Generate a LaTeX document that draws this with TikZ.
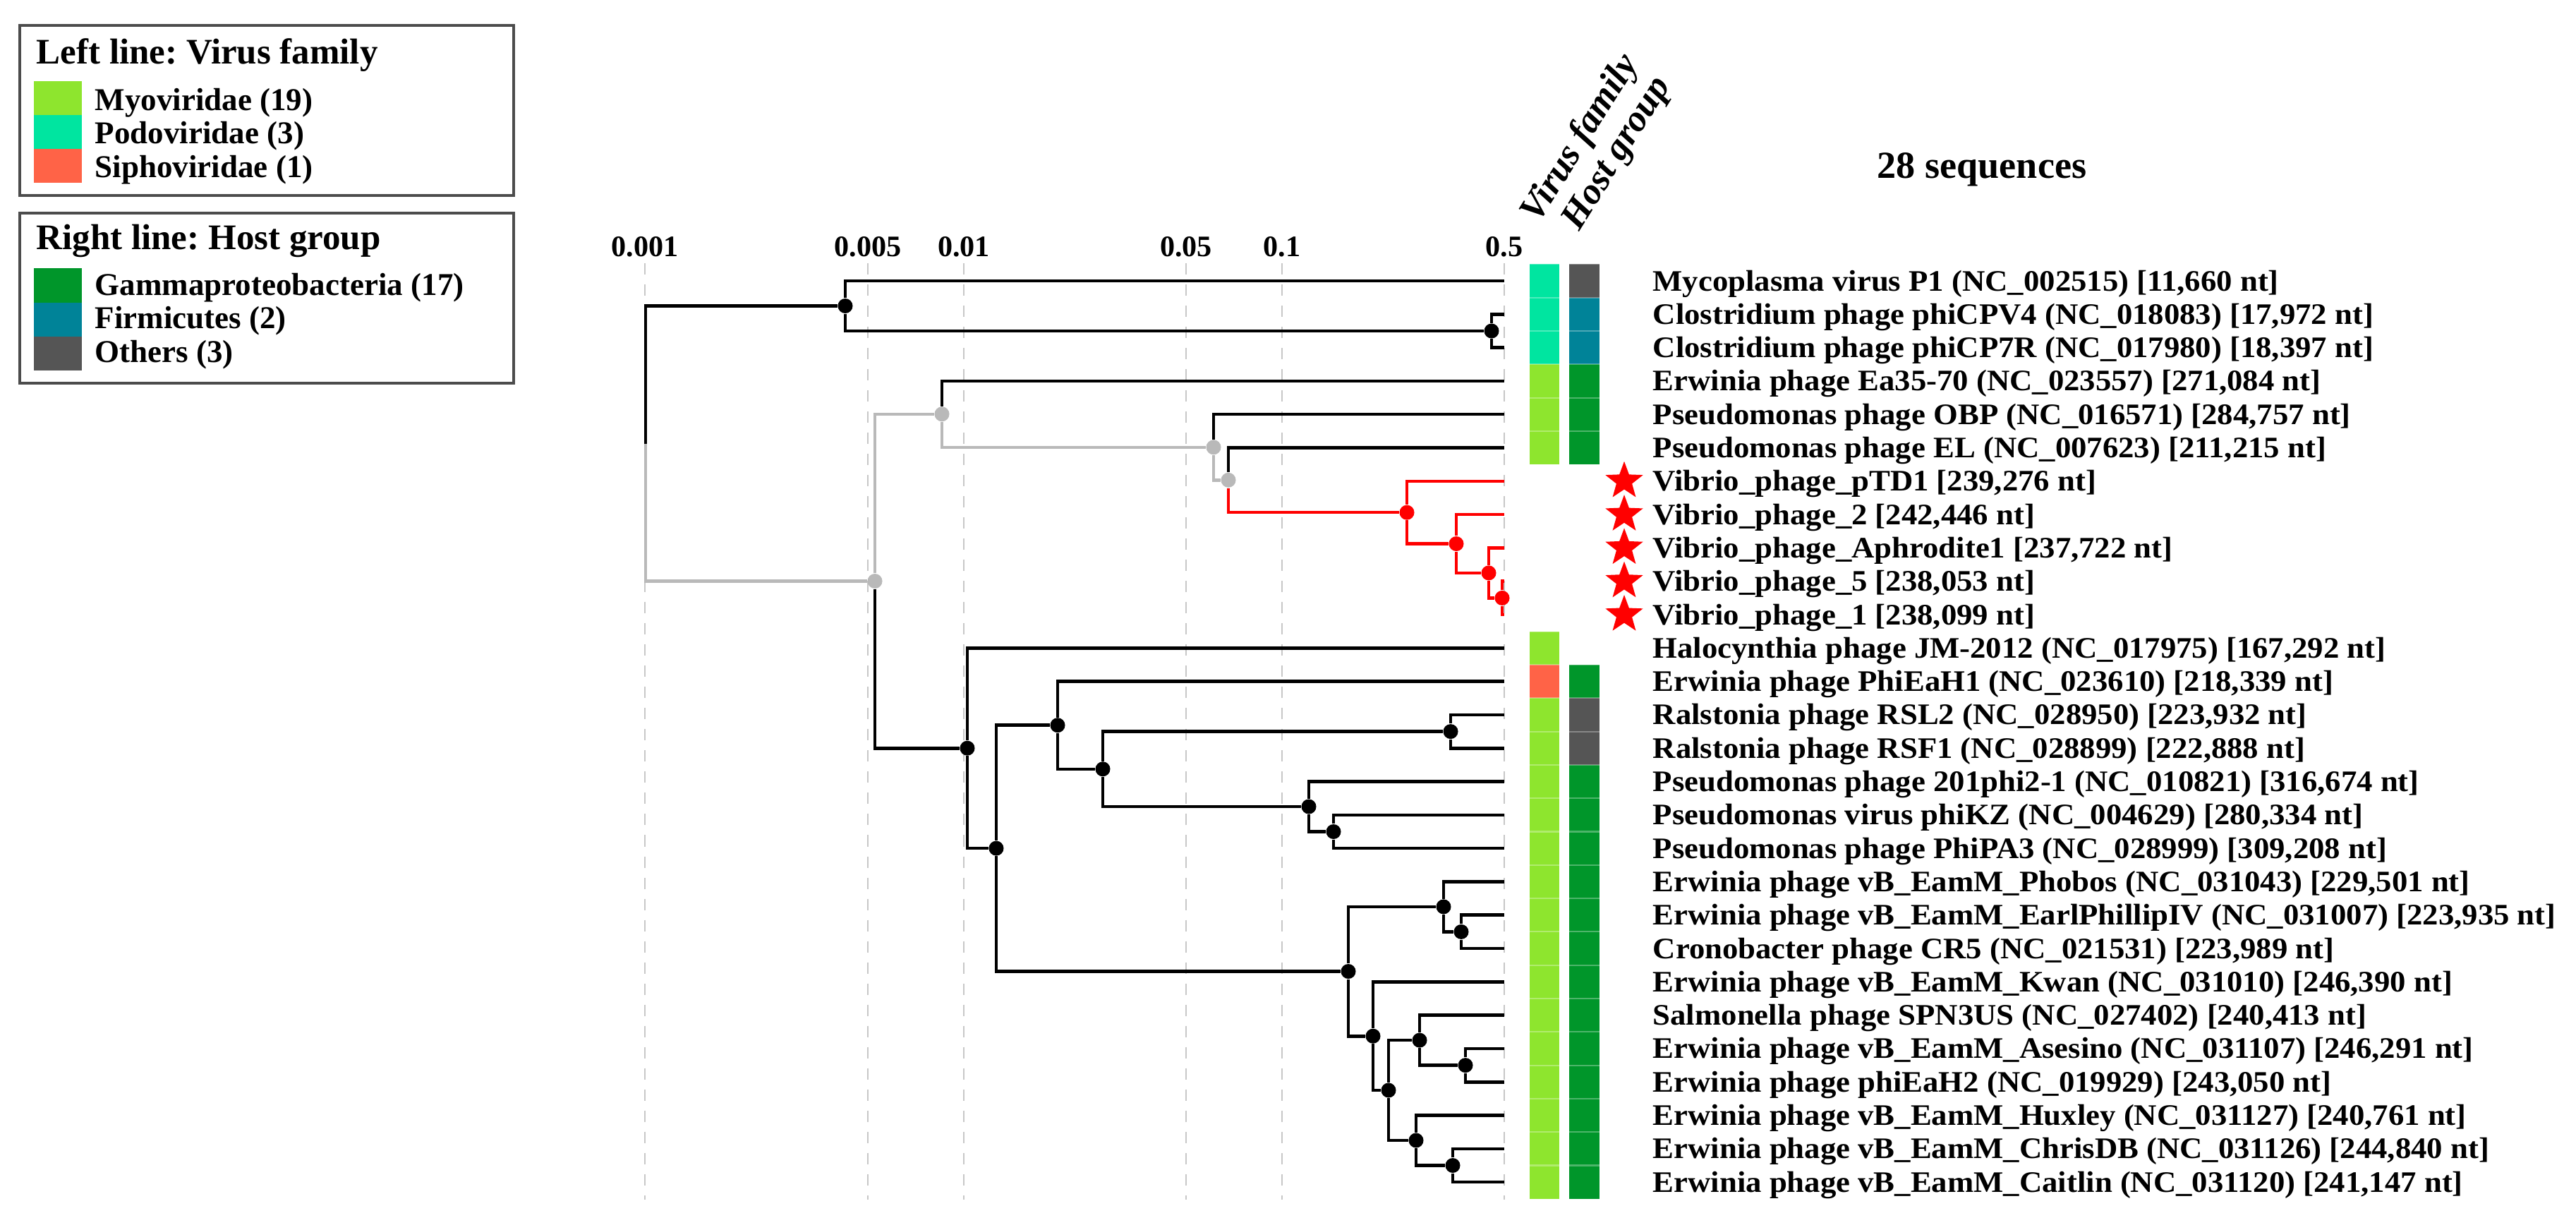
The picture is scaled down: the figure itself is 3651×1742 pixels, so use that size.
\documentclass[tikz,border=0pt]{standalone}
\usepackage{fontspec}
\setmainfont{Liberation Serif}
\newfontfamily\tipfont{Liberation Serif}[FakeStretch=1.06]
\usetikzlibrary{shapes.geometric}
\frenchspacing

\definecolor{myo}{RGB}{142,229,46}
\definecolor{podo}{RGB}{0,229,160}
\definecolor{sipho}{RGB}{255,99,71}
\definecolor{gamma}{RGB}{0,150,42}
\definecolor{firmi}{RGB}{0,131,152}
\definecolor{others}{RGB}{85,85,85}
\definecolor{clgray}{RGB}{185,185,185}

\tikzset{
  br/.style={line width=1.3pt},
  gbr/.style={br, draw=clgray},
  rbr/.style={br, draw=red},
  dot/.style={circle, fill=black, inner sep=0pt, minimum size=0.21cm},
  gdot/.style={dot, fill=clgray},
  rdot/.style={dot, fill=red},
  grid/.style={draw=black!22, line width=0.7pt, dash pattern=on 0.16cm off 0.14cm},
  axlab/.style={font=\fontsize{12}{14}\selectfont\bfseries, inner sep=0pt},
  tip/.style={font=\tipfont\fontsize{12}{14}\selectfont\bfseries, anchor=base west, inner sep=0pt},
  vstar/.style={star, star points=5, star point ratio=2.4, fill=red, inner sep=0pt, minimum size=0.56cm},
  cellsep/.style={draw=white, opacity=0.3, line width=0.6pt},
  legbox/.style={draw=black!70, line width=1.1pt},
  legtitle/.style={font=\fontsize{14.5}{17}\selectfont\bfseries, anchor=base west, inner sep=0pt},
  legitem/.style={font=\fontsize{12.8}{15}\selectfont\bfseries, anchor=base west, inner sep=0pt},
  colhead/.style={font=\fontsize{15}{18}\selectfont\bfseries\itshape, anchor=base west, inner sep=0pt, rotate=58},
  seqtitle/.style={font=\fontsize{15.4}{18}\selectfont\bfseries, inner sep=0pt}
}

\begin{document}
\begin{tikzpicture}[x=0.01cm, y=-0.01cm]
\useasboundingbox (0,0) rectangle (3651,1742);

\draw[legbox] (28,36) rectangle (728,277);
\node[legtitle] (famtitle) at (51,90) {Left line: Virus family};
\foreach \c/\t [count=\i] in {myo/Myoviridae (19), podo/Podoviridae (3), sipho/Siphoviridae (1)} {
  \fill[\c] (48,{67+\i*48}) rectangle ++(68,48);
  \node[legitem] (fam\i) at (134,{108.5+\i*47.5}) {\t};
}
\draw[legbox] (28,302) rectangle (728,543);
\node[legtitle] (hosttitle) at (51,353) {Right line: Host group};
\foreach \c/\t [count=\i] in {gamma/Gammaproteobacteria (17), firmi/Firmicutes (2), others/Others (3)} {
  \fill[\c] (48,{332+\i*48.3}) rectangle ++(68,48.3);
  \node[legitem] (host\i) at (134,{370.5+\i*47.5}) {\t};
}

\foreach \v/\x [count=\i] in {0.001/914, 0.005/1230, 0.01/1366, 0.05/1681, 0.1/1817, 0.5/2132} {
  \draw[grid] (\x,373) -- (\x,1700);
  \node[axlab] (ax\i) at (\x,350) {\v};
}

\foreach \i in {1,...,28}
  \coordinate (t\i) at (2132,{398+(\i-1)*47.3});

\coordinate (root) at (915,628.5);
\node[dot] (A) at (1198,433.5) {};
\node[dot] (B) at (2114,469) {};
\node[gdot] (C) at (1240,823.5) {};
\node[gdot] (D) at (1335,586.8) {};
\node[gdot] (F) at (1720,633.8) {};
\node[gdot] (G) at (1741,680.3) {};
\node[rdot] (H) at (1994,726.2) {};
\node[rdot] (I) at (2064,770.5) {};
\node[rdot] (J) at (2110,811.9) {};
\node[rdot] (K) at (2129,847.4) {};
\node[dot] (E) at (1371,1060.2) {};
\node[dot] (L) at (1412,1202.1) {};
\node[dot] (M) at (1499,1027.7) {};
\node[dot] (O) at (1563,1089.8) {};
\node[dot] (P) at (2056,1036.6) {};
\node[dot] (Q) at (1855,1143) {};
\node[dot] (R) at (1890,1178.5) {};
\node[dot] (N) at (1911,1376.5) {};
\node[dot] (S) at (2046,1284.9) {};
\node[dot] (U) at (2071,1320.4) {};
\node[dot] (T) at (1946,1468.2) {};
\node[dot] (V) at (1968,1545) {};
\node[dot] (W) at (2012,1474.1) {};
\node[dot] (X) at (2077,1509.6) {};
\node[dot] (Y) at (2007,1616) {};
\node[dot] (Z) at (2059,1651.5) {};

\foreach \p/\c in {root/A, A/t1, A/B, B/t2, B/t3, C/E, D/t4, F/t5, G/t6,
    E/t12, E/L, L/M, L/N, M/t13, M/O, O/P, O/Q, P/t14, P/t15, Q/t16, Q/R, R/t17, R/t18,
    N/S, N/T, S/t19, S/U, U/t20, U/t21, T/t22, T/V, V/W, V/Y, W/t23, W/X, X/t24, X/t25,
    Y/t26, Y/Z, Z/t27, Z/t28}
  \draw[br] (\p) |- (\c);
\foreach \p/\c in {root/C, C/D, D/F, F/G}
  \draw[gbr] (\p) |- (\c);
\foreach \p/\c in {G/H, H/t7, H/I, I/t8, I/J, J/t9, J/K, K/t10, K/t11}
  \draw[rbr] (\p) |- (\c);

\foreach \i/\c in {1/podo, 2/podo, 3/podo, 4/myo, 5/myo, 6/myo, 12/myo, 13/sipho} {
  \fill[\c] (2168,{327.05+\i*47.3}) rectangle ++(42,47.3);
  \draw[cellsep] (2168,{327.05+\i*47.3}) -- ++(42,0);
}
\foreach \i in {14,...,28} {
  \fill[myo] (2168,{327.05+\i*47.3}) rectangle ++(42,47.3);
  \draw[cellsep] (2168,{327.05+\i*47.3}) -- ++(42,0);
}
\foreach \i/\c in {1/others, 2/firmi, 3/firmi, 4/gamma, 5/gamma, 6/gamma, 13/gamma, 14/others, 15/others} {
  \fill[\c] (2224,{327.05+\i*47.3}) rectangle ++(43,47.3);
  \draw[cellsep] (2224,{327.05+\i*47.3}) -- ++(43,0);
}
\foreach \i in {16,...,28} {
  \fill[gamma] (2224,{327.05+\i*47.3}) rectangle ++(43,47.3);
  \draw[cellsep] (2224,{327.05+\i*47.3}) -- ++(43,0);
}

\node[colhead] (vfam) at (2180,318) {Virus family};
\node[colhead] (hgrp) at (2238,329) {Host group};
\node[seqtitle] (nseq) at (2809,240) {28 sequences};

\foreach \i in {7,...,11}
  \node[vstar] (star\i) at (2302,{398+(\i-1)*47.3}) {};

\foreach \lab [count=\i] in {
  {Mycoplasma virus P1 (NC\_002515) [11,660 nt]},
  {Clostridium phage phiCPV4 (NC\_018083) [17,972 nt]},
  {Clostridium phage phiCP7R (NC\_017980) [18,397 nt]},
  {Erwinia phage Ea35-70 (NC\_023557) [271,084 nt]},
  {Pseudomonas phage OBP (NC\_016571) [284,757 nt]},
  {Pseudomonas phage EL (NC\_007623) [211,215 nt]},
  {Vibrio\_phage\_pTD1 [239,276 nt]},
  {Vibrio\_phage\_2 [242,446 nt]},
  {Vibrio\_phage\_Aphrodite1 [237,722 nt]},
  {Vibrio\_phage\_5 [238,053 nt]},
  {Vibrio\_phage\_1 [238,099 nt]},
  {Halocynthia phage JM-2012 (NC\_017975) [167,292 nt]},
  {Erwinia phage PhiEaH1 (NC\_023610) [218,339 nt]},
  {Ralstonia phage RSL2 (NC\_028950) [223,932 nt]},
  {Ralstonia phage RSF1 (NC\_028899) [222,888 nt]},
  {Pseudomonas phage 201phi2-1 (NC\_010821) [316,674 nt]},
  {Pseudomonas virus phiKZ (NC\_004629) [280,334 nt]},
  {Pseudomonas phage PhiPA3 (NC\_028999) [309,208 nt]},
  {Erwinia phage vB\_EamM\_Phobos (NC\_031043) [229,501 nt]},
  {Erwinia phage vB\_EamM\_EarlPhillipIV (NC\_031007) [223,935 nt]},
  {Cronobacter phage CR5 (NC\_021531) [223,989 nt]},
  {Erwinia phage vB\_EamM\_Kwan (NC\_031010) [246,390 nt]},
  {Salmonella phage SPN3US (NC\_027402) [240,413 nt]},
  {Erwinia phage vB\_EamM\_Asesino (NC\_031107) [246,291 nt]},
  {Erwinia phage phiEaH2 (NC\_019929) [243,050 nt]},
  {Erwinia phage vB\_EamM\_Huxley (NC\_031127) [240,761 nt]},
  {Erwinia phage vB\_EamM\_ChrisDB (NC\_031126) [244,840 nt]},
  {Erwinia phage vB\_EamM\_Caitlin (NC\_031120) [241,147 nt]}}
  \node[tip] (lab\i) at (2342,{412+(\i-1)*47.3}) {\lab};

\end{tikzpicture}
\end{document}
